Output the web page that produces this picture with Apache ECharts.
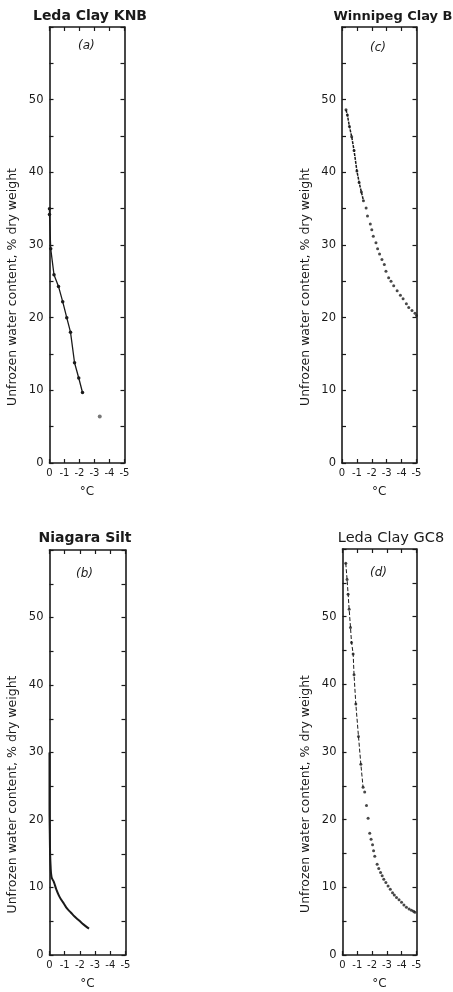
<!DOCTYPE html>
<html>
<head>
<meta charset="utf-8">
<script src="https://cdn.jsdelivr.net/npm/echarts@6/dist/echarts.min.js"></script>
<style>
html,body{margin:0;padding:0;background:#fff;}
#chart{width:453px;height:992px;}
</style>
</head>
<body>
<div id="chart"></div>
<script>
// ---- data (temperature °C, unfrozen water content % dry weight) ----
var panelTitles = ['Leda Clay KNB', 'Winnipeg Clay B', 'Niagara Silt', 'Leda Clay GC8'];
var panelLetters = ['(a)', '(c)', '(b)', '(d)'];
var xTicks = [0, -1, -2, -3, -4, -5];
var yTicks = [0, 10, 20, 30, 40, 50];

var ledaKNB = [[0, 35.0], [0, 34.2], [-0.08, 29.5], [-0.3, 25.9], [-0.6, 24.3], [-0.88, 22.2],
  [-1.15, 20.0], [-1.4, 18.0], [-1.67, 13.8], [-1.95, 11.7], [-2.2, 9.7]];
var ledaKNBOutlier = [[-3.35, 6.4]];

var winnipeg = [[-0.27, 48.6], [-0.36, 47.9], [-0.5, 46.3], [-0.65, 44.9], [-0.81, 43.0],
  [-1.0, 40.2], [-1.15, 38.6], [-1.3, 37.3], [-1.44, 36.1], [-1.62, 35.1], [-1.71, 34.0],
  [-1.9, 32.9], [-2.0, 32.1], [-2.1, 31.2], [-2.28, 30.3], [-2.39, 29.5], [-2.52, 28.75],
  [-2.68, 28.0], [-2.84, 27.3], [-2.95, 26.4], [-3.13, 25.5], [-3.29, 25.0], [-3.47, 24.4],
  [-3.7, 23.7], [-3.92, 23.1], [-4.1, 22.6], [-4.32, 21.9], [-4.48, 21.4], [-4.7, 21.0],
  [-4.9, 20.6], [-5.0, 20.3]];

var niagara = [[0, 30.0], [0, 26.0], [0, 22.0], [-0.02, 18.0], [-0.04, 15.0], [-0.07, 13.3],
  [-0.13, 11.6], [-0.29, 10.8], [-0.45, 9.7], [-0.62, 8.8], [-0.8, 8.1], [-0.95, 7.6],
  [-1.15, 6.9], [-1.4, 6.3], [-1.65, 5.7], [-1.95, 5.1], [-2.25, 4.5], [-2.6, 3.9]];

var ledaGC8 = [[-0.22, 57.9], [-0.31, 55.5], [-0.38, 53.3], [-0.45, 51.1], [-0.54, 48.4],
  [-0.61, 46.2], [-0.72, 44.5], [-0.78, 41.4], [-0.9, 37.1], [-1.08, 32.3], [-1.24, 28.2],
  [-1.39, 24.8], [-1.5, 24.1], [-1.62, 22.1], [-1.73, 20.2], [-1.84, 18.0], [-1.93, 17.1],
  [-2.03, 16.3], [-2.1, 15.4], [-2.18, 14.6], [-2.34, 13.4], [-2.45, 12.8], [-2.57, 12.2],
  [-2.68, 11.7], [-2.79, 11.2], [-2.93, 10.7], [-3.08, 10.2], [-3.23, 9.7], [-3.38, 9.2],
  [-3.5, 8.85], [-3.65, 8.5], [-3.82, 8.15], [-3.99, 7.8], [-4.15, 7.4], [-4.32, 7.05],
  [-4.5, 6.8], [-4.66, 6.6], [-4.8, 6.45], [-4.89, 6.3]];

var yName = 'Unfrozen water content, % dry weight';
var xName = '°C';

// ---- layout ----
var grids = [
  {left: 49.5, top: 27, width: 75, height: 436},
  {left: 342, top: 27, width: 74.5, height: 436},
  {left: 49.5, top: 550, width: 76, height: 405},
  {left: 342.5, top: 549, width: 74, height: 406}
];
var titlePos = [[85, 4], [388, 5], [80, 526], [386, 526]];
var titleSizes = [14, 13, 14, 14.5];
var letterPos = [[88, 40], [380, 42], [86, 568], [380, 567]];
var FONT = 'DejaVu Sans';
var INK = '#1a1a1a';

var option = {
  animation: false,
  backgroundColor: '#ffffff',
  grid: [], xAxis: [], yAxis: [], series: [], title: [], graphic: []
};

grids.forEach(function (g, i) {
  option.grid.push({left: g.left, top: g.top, width: g.width, height: g.height, containLabel: false});
  option.xAxis.push({
    type: 'value', gridIndex: i, min: -5, max: 0, interval: 1, inverse: true, position: 'bottom',
    name: xName, nameLocation: 'middle', nameGap: 23,
    nameTextStyle: {fontFamily: FONT, fontSize: 12, color: INK},
    axisLine: {show: true, onZero: false, lineStyle: {color: INK, width: 1.6}},
    axisTick: {show: true, inside: true, length: 4, lineStyle: {color: INK, width: 1.2}},
    axisLabel: {show: true, margin: 5, fontFamily: FONT, fontSize: 10, color: INK,
      formatter: function (v) { return xTicks.indexOf(v) >= 0 ? String(v) : ''; }},
    splitLine: {show: false}
  });
  option.xAxis.push({
    type: 'value', gridIndex: i, min: -5, max: 0, interval: 1, inverse: true, position: 'top',
    axisLine: {show: true, onZero: false, lineStyle: {color: INK, width: 1.6}},
    axisTick: {show: true, inside: true, length: 4, lineStyle: {color: INK, width: 1.2}},
    axisLabel: {show: false}, splitLine: {show: false}
  });
  option.yAxis.push({
    type: 'value', gridIndex: i, min: 0, max: 60, interval: 5, position: 'left',
    name: yName, nameLocation: 'middle', nameGap: 30,
    nameTextStyle: {fontFamily: FONT, fontSize: 12.5, color: INK, padding: [0, 84, 0, 0]},
    axisLine: {show: true, onZero: false, lineStyle: {color: INK, width: 1.6}},
    axisTick: {show: true, inside: true, length: 4, lineStyle: {color: INK, width: 1.2}},
    axisLabel: {show: true, margin: 6, fontFamily: FONT, fontSize: 11.5, color: INK,
      formatter: function (v) { return yTicks.indexOf(v) >= 0 ? String(v) : ''; }},
    splitLine: {show: false}
  });
  option.yAxis.push({
    type: 'value', gridIndex: i, min: 0, max: 60, interval: 5, position: 'right',
    axisLine: {show: true, onZero: false, lineStyle: {color: INK, width: 1.6}},
    axisTick: {show: true, inside: true, length: 4, lineStyle: {color: INK, width: 1.2}},
    axisLabel: {show: false}, splitLine: {show: false}
  });
  option.title.push({
    text: panelTitles[i], left: titlePos[i][0], top: titlePos[i][1], textAlign: 'center',
    textStyle: {fontFamily: FONT, fontSize: titleSizes[i], fontWeight: i === 3 ? 'normal' : 'bold', color: INK}
  });
  option.graphic.push({
    type: 'text', left: letterPos[i][0] - 10, top: letterPos[i][1],
    style: {text: panelLetters[i], font: 'italic 12px "DejaVu Sans"', fill: INK}
  });
});

function axisIdx(i) { return {xAxisIndex: i * 2, yAxisIndex: i * 2}; }

option.series.push(Object.assign({
  type: 'line', data: ledaKNB, symbol: 'circle', symbolSize: 3.5, showSymbol: true,
  lineStyle: {color: INK, width: 1.3}, itemStyle: {color: INK}
}, axisIdx(0)));
option.series.push(Object.assign({
  type: 'scatter', data: ledaKNBOutlier, symbol: 'circle', symbolSize: 4,
  itemStyle: {color: '#555'}
}, axisIdx(0)));
option.series.push(Object.assign({
  type: 'scatter', data: winnipeg, symbol: 'circle', symbolSize: 3,
  itemStyle: {color: INK}
}, axisIdx(1)));
option.series.push(Object.assign({
  type: 'line', data: winnipeg.slice(0, 9), symbol: 'none', smooth: false,
  lineStyle: {color: INK, width: 1.5, type: [3, 1]}
}, axisIdx(1)));
option.series.push(Object.assign({
  type: 'line', data: niagara, symbol: 'none', smooth: true,
  lineStyle: {color: INK, width: 2}
}, axisIdx(2)));
option.series.push(Object.assign({
  type: 'scatter', data: ledaGC8, symbol: 'circle', symbolSize: 3,
  itemStyle: {color: INK}
}, axisIdx(3)));
option.series.push(Object.assign({
  type: 'line', data: ledaGC8.slice(0, 12), symbol: 'none',
  lineStyle: {color: INK, width: 1, type: [4, 2]}
}, axisIdx(3)));

var chart = echarts.init(document.getElementById('chart'), null, {renderer: 'canvas'});
chart.setOption(option);
</script>
</body>
</html>
